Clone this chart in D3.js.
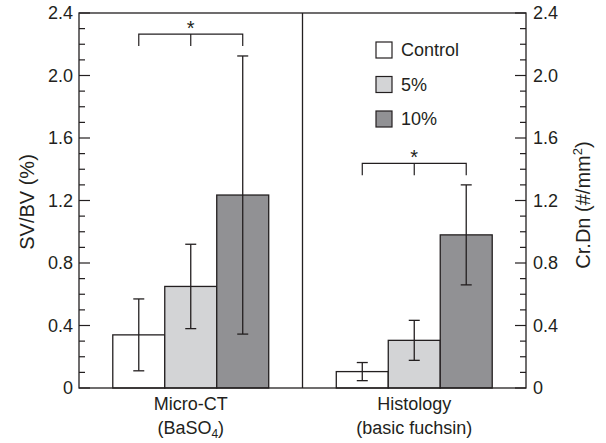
<!DOCTYPE html>
<html>
<head>
<meta charset="utf-8">
<script src="https://cdn.jsdelivr.net/npm/d3@7"></script>
<style>
  body { margin: 0; background: #fff; }
  text { font-family: "Liberation Sans", Arial, sans-serif; fill: #231f20; }
</style>
</head>
<body>
<div id="container"></div>
<script>
const w = 606;
const h = 443;

// data
const panels = ['Micro-CT', 'Histology'];
const panelSub = ['(BaSO', '(basic fuchsin)'];
const groups = ['Control', '5%', '10%'];
const means = [
  [0.34, 0.65, 1.235],
  [0.105, 0.305, 0.98]
];
const errs = [
  [0.23, 0.27, 0.89],
  [0.058, 0.128, 0.32]
];
const sigHeights = [2.265, 1.438];
const yTicks = [0, 0.4, 0.8, 1.2, 1.6, 2.0, 2.4];
const colors = ['#ffffff', '#d3d4d6', '#919194'];

const pLeft = 79, pRight = 526, pTop = 13, pBottom = 388;
const stroke = '#231f20';
const fs = '18px';

const svg = d3.select('#container')
  .append('svg')
    .attr('width', w)
    .attr('height', h);

const y = d3.scaleLinear().domain([0, 2.4]).range([pBottom, pTop]);

const xPanel = d3.scaleBand()
  .domain(panels)
  .range([pLeft, pRight]);

const xBar = d3.scaleBand()
  .domain(groups)
  .range([0, xPanel.bandwidth()])
  .paddingOuter(0.65);

// minor ticks
const minor = d3.range(1, 24).filter(v => v % 4 !== 0).map(v => v / 10);

const leftAx = svg.append('g').attr('transform', 'translate(' + pLeft + ',0)');
leftAx.selectAll('line.minor').data(minor).enter().append('line')
  .attr('x1', 0).attr('x2', 6)
  .attr('y1', d => y(d)).attr('y2', d => y(d))
  .attr('stroke', stroke).attr('stroke-width', 1.2);
leftAx.selectAll('line.major').data(yTicks).enter().append('line')
  .attr('x1', 0).attr('x2', 11)
  .attr('y1', d => y(d)).attr('y2', d => y(d))
  .attr('stroke', stroke).attr('stroke-width', 1.2);
leftAx.selectAll('text').data(yTicks).enter().append('text')
  .attr('x', -6)
  .attr('y', d => y(d))
  .attr('dy', '0.36em')
  .attr('text-anchor', 'end')
  .style('font-size', fs)
  .text(d => d === 0 ? '0' : d.toFixed(1));

const rightAx = svg.append('g').attr('transform', 'translate(' + pRight + ',0)');
rightAx.selectAll('line.minor').data(minor).enter().append('line')
  .attr('x1', 0).attr('x2', -6)
  .attr('y1', d => y(d)).attr('y2', d => y(d))
  .attr('stroke', stroke).attr('stroke-width', 1.2);
rightAx.selectAll('line.major').data(yTicks).enter().append('line')
  .attr('x1', 0).attr('x2', -11)
  .attr('y1', d => y(d)).attr('y2', d => y(d))
  .attr('stroke', stroke).attr('stroke-width', 1.2);
rightAx.selectAll('text').data(yTicks).enter().append('text')
  .attr('x', 7)
  .attr('y', d => y(d))
  .attr('dy', '0.36em')
  .style('font-size', fs)
  .text(d => d === 0 ? '0' : d.toFixed(1));

// bars
panels.forEach((p, i) => {
  const g = svg.append('g').attr('transform', 'translate(' + xPanel(p) + ',0)');
  g.selectAll('rect').data(groups).enter().append('rect')
    .attr('x', d => xBar(d))
    .attr('y', (d, j) => y(means[i][j]))
    .attr('width', xBar.bandwidth())
    .attr('height', (d, j) => y(0) - y(means[i][j]))
    .attr('fill', (d, j) => colors[j])
    .attr('stroke', stroke)
    .attr('stroke-width', 1.3);

  groups.forEach((gr, j) => {
    const cx = xBar(gr) + xBar.bandwidth() / 2;
    const hi = y(means[i][j] + errs[i][j]);
    const lo = y(means[i][j] - errs[i][j]);
    g.append('line').attr('x1', cx).attr('x2', cx).attr('y1', hi).attr('y2', lo)
      .attr('stroke', stroke).attr('stroke-width', 1.3);
    [hi, lo].forEach(v => {
      g.append('line').attr('x1', cx - 5.5).attr('x2', cx + 5.5).attr('y1', v).attr('y2', v)
        .attr('stroke', stroke).attr('stroke-width', 1.3);
    });
  });

  // significance bracket
  const x0 = xBar(groups[0]) + xBar.bandwidth() / 2;
  const x2 = xBar(groups[2]) + xBar.bandwidth() / 2;
  const by = y(sigHeights[i]);
  g.append('path')
    .attr('d', 'M' + x0 + ',' + (by + 12) + 'V' + by + 'H' + x2 + 'V' + (by + 12)
      + 'M' + ((x0 + x2) / 2) + ',' + by + 'v12')
    .attr('fill', 'none').attr('stroke', stroke).attr('stroke-width', 1.2);
  g.append('text')
    .attr('x', (x0 + x2) / 2)
    .attr('y', by + 1)
    .attr('text-anchor', 'middle')
    .style('font-size', '20px')
    .text('*');

  // category labels
  g.append('text')
    .attr('x', xPanel.bandwidth() / 2)
    .attr('y', 410)
    .attr('text-anchor', 'middle')
    .style('font-size', fs)
    .text(p);
  const sub = g.append('text')
    .attr('x', xPanel.bandwidth() / 2)
    .attr('y', 434)
    .attr('text-anchor', 'middle')
    .style('font-size', fs)
    .text(panelSub[i]);
  if (i === 0) {
    sub.append('tspan').attr('dy', 4).style('font-size', '12px').text('4');
    sub.append('tspan').attr('dy', -4).text(')');
  }
});

// frame and divider
svg.append('rect')
  .attr('x', pLeft).attr('y', pTop)
  .attr('width', pRight - pLeft).attr('height', pBottom - pTop)
  .attr('fill', 'none').attr('stroke', stroke).attr('stroke-width', 1.3);
svg.append('line')
  .attr('x1', xPanel(panels[1])).attr('x2', xPanel(panels[1]))
  .attr('y1', pTop).attr('y2', pBottom)
  .attr('stroke', stroke).attr('stroke-width', 1.3);

// legend
const legend = svg.append('g').attr('transform', 'translate(376,42)');
groups.forEach((gr, j) => {
  const row = legend.append('g').attr('transform', 'translate(0,' + (j * 34.5) + ')');
  row.append('rect')
    .attr('width', 16).attr('height', 16)
    .attr('fill', colors[j]).attr('stroke', stroke).attr('stroke-width', 1.2);
  row.append('text')
    .attr('x', 25).attr('y', 8).attr('dy', '0.36em')
    .style('font-size', fs)
    .text(gr);
});

// axis titles
svg.append('text')
  .attr('transform', 'translate(34,202) rotate(-90)')
  .attr('text-anchor', 'middle')
  .style('font-size', '20px')
  .text('SV/BV (%)');

const rt = svg.append('text')
  .attr('transform', 'translate(590,205) rotate(-90)')
  .attr('text-anchor', 'middle')
  .style('font-size', '20px')
  .text('Cr.Dn (#/mm');
rt.append('tspan').attr('dy', -8).style('font-size', '13px').text('2');
rt.append('tspan').attr('dy', 8).text(')');
</script>
</body>
</html>
